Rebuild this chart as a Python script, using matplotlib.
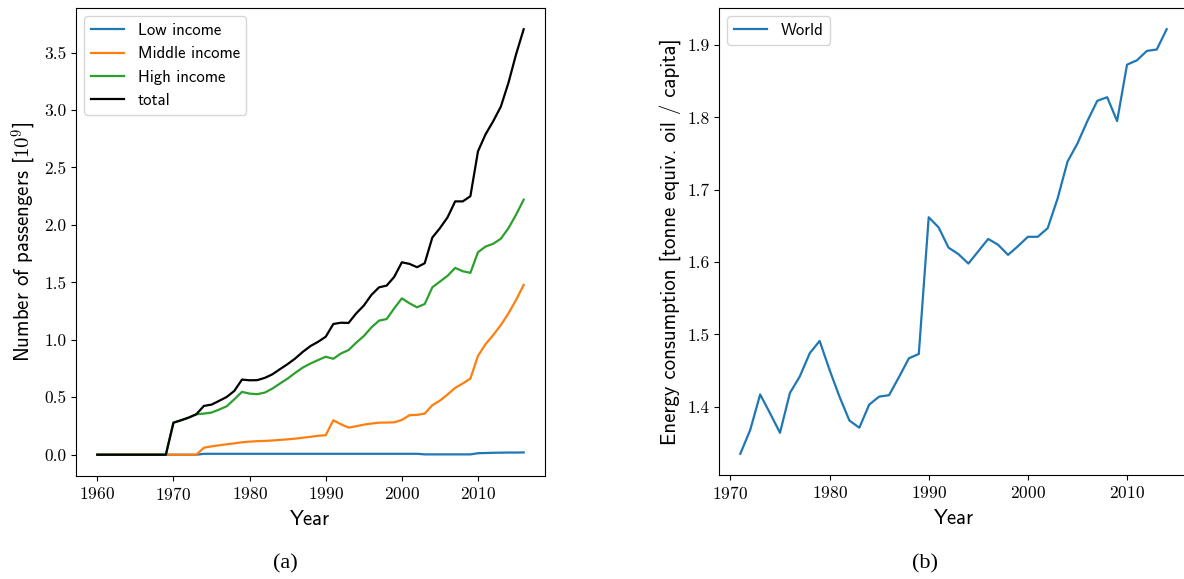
import matplotlib
matplotlib.use("Agg")
import matplotlib.pyplot as plt

plt.rcParams["font.family"] = "cmss10"
plt.rcParams["mathtext.fontset"] = "cm"
plt.rcParams["axes.formatter.use_mathtext"] = True
plt.rcParams["axes.unicode_minus"] = False

# Air passengers by income group (billions)
years_a = list(range(1960, 2017))
low_income = [0.0] * 14 + [0.008] * 29 + [0.003] * 7 + [0.013, 0.015, 0.017, 0.018, 0.019, 0.019, 0.02]
middle_income = [0.0] * 14 + [
    0.061, 0.073, 0.082, 0.091, 0.099, 0.108, 0.114, 0.118, 0.120, 0.124,
    0.129, 0.134, 0.140, 0.148, 0.156, 0.165, 0.170, 0.300, 0.265, 0.236,
    0.248, 0.262, 0.271, 0.279, 0.280, 0.282, 0.303, 0.344, 0.347, 0.358,
    0.431, 0.471, 0.524, 0.582, 0.620, 0.663, 0.861, 0.963, 1.042, 1.129,
    1.230, 1.347, 1.478]
high_income = [0.0] * 10 + [
    0.279, 0.300, 0.323, 0.352, 0.358, 0.367, 0.393, 0.422, 0.483, 0.547,
    0.532, 0.527, 0.541, 0.576, 0.620, 0.663, 0.713, 0.759, 0.794, 0.824,
    0.853, 0.835, 0.881, 0.911, 0.975, 1.033, 1.108, 1.167, 1.181, 1.274,
    1.361, 1.318, 1.283, 1.312, 1.457, 1.507, 1.557, 1.626, 1.597, 1.583,
    1.763, 1.812, 1.836, 1.880, 1.972, 2.089, 2.220]
total = [0.0] * 10 + [
    0.279, 0.300, 0.323, 0.352, 0.425, 0.436, 0.469, 0.503, 0.556, 0.654,
    0.648, 0.649, 0.669, 0.700, 0.745, 0.789, 0.838, 0.896, 0.946, 0.983,
    1.027, 1.138, 1.149, 1.147, 1.230, 1.298, 1.391, 1.457, 1.472, 1.548,
    1.675, 1.661, 1.632, 1.667, 1.890, 1.972, 2.066, 2.205, 2.205, 2.250,
    2.641, 2.790, 2.903, 3.030, 3.237, 3.485, 3.703]

# World energy consumption per capita (tonne oil equivalent)
years_b = list(range(1971, 2015))
world_energy = [
    1.335, 1.368, 1.417, 1.391, 1.364, 1.419, 1.442, 1.474, 1.491, 1.451,
    1.414, 1.381, 1.371, 1.403, 1.414, 1.416, 1.441, 1.467, 1.473, 1.662,
    1.648, 1.620, 1.611, 1.598, 1.615, 1.632, 1.624, 1.610, 1.622, 1.635,
    1.635, 1.647, 1.688, 1.739, 1.764, 1.795, 1.823, 1.828, 1.795, 1.873,
    1.879, 1.892, 1.894, 1.922]

W, H = 1184, 579
fig = plt.figure(figsize=(W / 100, H / 100), dpi=100)


def px_axes(x0, y0, x1, y1):
    return fig.add_axes([x0 / W, 1 - y1 / H, (x1 - x0) / W, (y1 - y0) / H])


tick_size = 12.5
label_size = 15
legend_size = 12

# (a) passengers
ax1 = px_axes(76, 8, 545, 476)
ax1.plot(years_a, low_income, color="#1f77b4", lw=1.6, label="Low income")
ax1.plot(years_a, middle_income, color="#ff7f0e", lw=1.6, label="Middle income")
ax1.plot(years_a, high_income, color="#2ca02c", lw=1.6, label="High income")
ax1.plot(years_a, total, color="black", lw=1.6, label="total")
ax1.set_xticks([1960, 1970, 1980, 1990, 2000, 2010])
ax1.set_yticks([0.0, 0.5, 1.0, 1.5, 2.0, 2.5, 3.0, 3.5])
ax1.set_yticklabels([f"{v:.1f}" for v in ax1.get_yticks()])
ax1.set_xlabel("Year", fontsize=label_size, labelpad=5)
ax1.set_ylabel("Number of passengers [$10^9$]", fontsize=label_size)
ax1.legend(loc="upper left", fontsize=legend_size)

# (b) energy
ax2 = px_axes(719, 8, 1188, 475)
ax2.plot(years_b, world_energy, color="#1f77b4", lw=1.6, label="World")
ax2.set_xticks([1970, 1980, 1990, 2000, 2010])
ax2.set_yticks([1.4, 1.5, 1.6, 1.7, 1.8, 1.9])
ax2.set_yticklabels([f"{v:.1f}" for v in ax2.get_yticks()])
ax2.set_xlabel("Year", fontsize=label_size, labelpad=5)
ax2.set_ylabel("Energy consumption [tonne equiv. oil / capita]", fontsize=label_size)
ax2.legend(loc="upper left", fontsize=legend_size)

for ax in (ax1, ax2):
    ax.tick_params(labelsize=tick_size, labelfontfamily="cmr10")

fig.text(285 / W, 1 - 564 / H, "(a)", family="Liberation Serif", fontsize=16,
         ha="center", va="center")
fig.text(925 / W, 1 - 564 / H, "(b)", family="Liberation Serif", fontsize=16,
         ha="center", va="center")

fig.savefig("out.png", dpi=100)
